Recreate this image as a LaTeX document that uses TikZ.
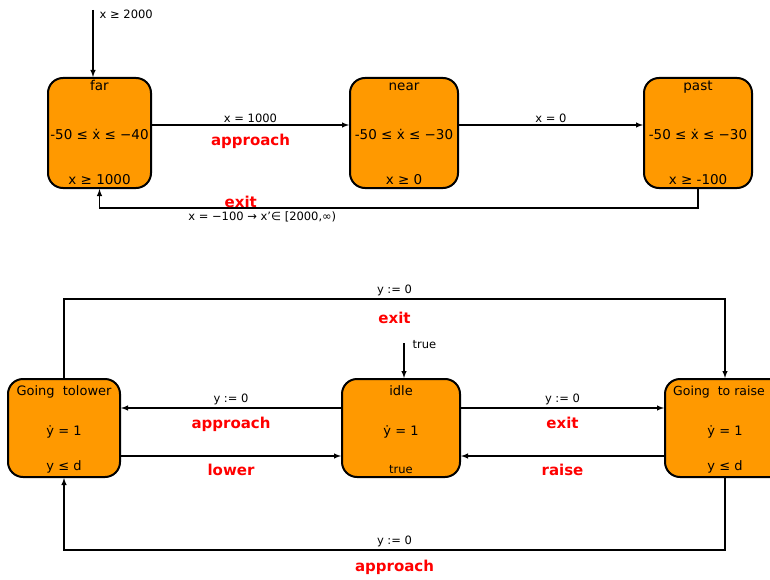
\documentclass[tikz,border=0pt]{standalone}
\usepackage{fontspec}
\setmainfont{DejaVu Sans}
\usetikzlibrary{positioning}
\definecolor{stateorange}{RGB}{255,153,0}
\definecolor{actred}{RGB}{255,0,0}

\tikzset{
  state/.style={draw, line width=2pt, fill=stateorange, rounded corners=15pt,
    minimum width=103pt, minimum height=110pt, inner sep=0pt},
  gatestate/.style={state, minimum width=112pt, minimum height=98pt},
  edge/.style={->, line width=1.4pt},
  guard/.style={font=\fontsize{11.5}{13}\selectfont, inner sep=2pt},
  action/.style={font=\fontsize{15}{17}\selectfont\bfseries, text=actred, inner sep=1pt},
  inv/.style={font=\fontsize{13.5}{16}\selectfont, inner sep=1pt, text height=10pt, text depth=3pt},
  ginv/.style={font=\fontsize{13}{15}\selectfont, inner sep=1pt, text height=10pt, text depth=3pt}
}

\begin{document}
\begin{tikzpicture}[x=1pt, y=-1pt, >=latex]
\useasboundingbox (0,0) rectangle (770,580);

%train automaton
\node[state] (far) at (99.5,133) {};
\node[state, minimum width=108pt] (near) at (404,133) {};
\node[state, minimum width=108pt] (past) at (698,133) {};

\node[inv, below=2pt of far.north] {far};
\node[inv] at ([yshift=-3pt]far) {-50 ≤ ẋ ≤ −40};
\node[inv, above=0pt of far.south] {x ≥ 1000};
\node[inv, below=2pt of near.north] {near};
\node[inv] at ([yshift=-3pt]near) {-50 ≤ ẋ ≤ −30};
\node[inv, above=0pt of near.south] {x ≥ 0};
\node[inv, below=2pt of past.north] {past};
\node[inv] at ([yshift=-3pt]past) {-50 ≤ ẋ ≤ −30};
\node[inv, above=0pt of past.south] {x ≥ -100};

\coordinate (farinit) at (93,10);
\draw[edge] (farinit) -- (farinit |- far.north)
  node[guard, pos=0.06, anchor=west, xshift=4pt] {x ≥ 2000};

\draw[edge] ([yshift=8pt]far.east) -- ([yshift=8pt]near.west)
  node[guard, midway, above] {x = 1000}
  node[action, midway, below=7pt] {approach};
\draw[edge] ([yshift=8pt]near.east) -- ([yshift=8pt]past.west)
  node[guard, midway, above] {x = 0};
\draw[edge] (past.south) -- ++(0,19) -| (far.south)
  node[action, pos=0.382, above, inner sep=0pt] {exit}
  node[guard, pos=0.364, below, inner sep=3pt] {x = −100 → x'∈ [2000,∞)};

%gate automaton
\node[gatestate] (golower) at (64,428) {};
\node[gatestate, minimum width=118pt] (idle) at (401,428) {};
\node[gatestate, minimum width=120pt] (goraise) at (725,428) {};

\node[ginv, below=6pt of golower.north] {Going\ \ tolower};
\node[ginv] at ([yshift=-4pt]golower) {ẏ = 1};
\node[ginv, above=3pt of golower.south] {y ≤ d};
\node[ginv, below=6pt of idle.north] {idle};
\node[ginv] at ([yshift=-4pt]idle) {ẏ = 1};
\node[guard, above=2pt of idle.south] {true};
\node[ginv, below=6pt of goraise.north, xshift=-6pt, font=\fontsize{12.5}{15}\selectfont] {Going\ \ to raise};
\node[ginv] at ([yshift=-4pt]goraise) {ẏ = 1};
\node[ginv, above=3pt of goraise.south] {y ≤ d};

\coordinate (idleinit) at (404,343);
\draw[edge] (idleinit) -- (idleinit |- idle.north)
  node[guard, pos=0.05, anchor=west, xshift=6pt] {true};

\draw[edge] ([yshift=20pt]idle.west) -- ([yshift=20pt]golower.east)
  node[guard, midway, above] {y := 0}
  node[action, midway, below=7pt] {approach};
\draw[edge] ([yshift=-28pt]golower.east) -- ([yshift=-28pt]idle.west)
  node[action, midway, below=6pt] {lower};
\draw[edge] ([yshift=20pt]idle.east) -- ([yshift=20pt]goraise.west)
  node[guard, midway, above] {y := 0}
  node[action, midway, below=7pt] {exit};
\draw[edge] ([yshift=-28pt]goraise.west) -- ([yshift=-28pt]idle.east)
  node[action, midway, below=6pt] {raise};

\draw[edge] (golower.north) -- ++(0,-79) -| (goraise.north)
  node[guard, pos=0.25, above] {y := 0}
  node[action, pos=0.25, below=11pt] {exit};
\draw[edge] (goraise.south) -- ++(0,72) -| (golower.south)
  node[guard, pos=0.25, above] {y := 0}
  node[action, pos=0.25, below=8pt] {approach};

\end{tikzpicture}
\end{document}
